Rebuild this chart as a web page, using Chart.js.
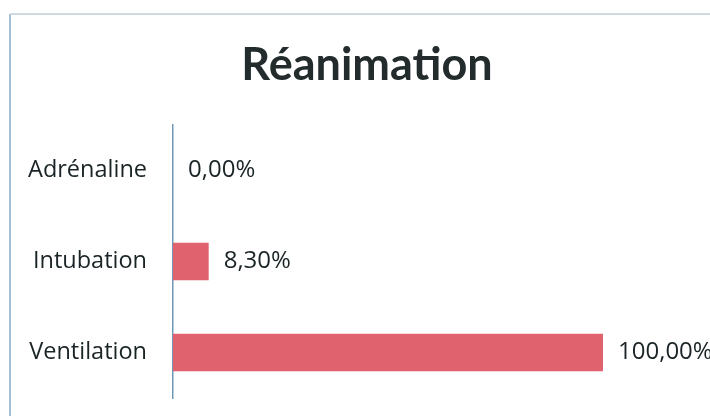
<!DOCTYPE html>
<html>
<head>
<meta charset="utf-8">
<script src="https://cdn.jsdelivr.net/npm/chart.js@4"></script>
<style>
  html, body { margin: 0; padding: 0; background: #ffffff; }
  #wrap { width: 710px; height: 416px; }
</style>
</head>
<body>
<div id="wrap"><canvas id="chart" width="710" height="416"></canvas></div>
<script>
const chartTitle = 'Réanimation';
const categories = ['Adrénaline', 'Intubation', 'Ventilation'];
const percentages = [0.0, 8.3, 100.0];

const barColor = '#e0626e';
const textColor = '#1a2426';
const axisColor = '#7199b6';
const labelFont = '"Open Sans", Lato, sans-serif';

// Outer frame of the chart panel (left edge and top edge) and the title
const framePlugin = {
  id: 'frame',
  beforeDraw(chart) {
    const ctx = chart.ctx;
    ctx.save();
    ctx.lineWidth = 2;
    ctx.strokeStyle = '#a3bfd1';
    ctx.beginPath();
    ctx.moveTo(10, 416);
    ctx.lineTo(10, 14);
    ctx.stroke();
    ctx.strokeStyle = '#cfdae1';
    ctx.beginPath();
    ctx.moveTo(10, 14);
    ctx.lineTo(710, 14);
    ctx.stroke();

    ctx.fillStyle = '#232b2d';
    ctx.font = 'bold 45px Lato, "Open Sans", sans-serif';
    ctx.textAlign = 'center';
    ctx.textBaseline = 'middle';
    ctx.fillText(chartTitle, 367, 65);
    ctx.restore();
  }
};

// Percentage labels written just past the end of each bar
const valueLabels = {
  id: 'valueLabels',
  afterDatasetsDraw(chart) {
    const ctx = chart.ctx;
    const meta = chart.getDatasetMeta(0);
    ctx.save();
    ctx.font = '500 24px ' + labelFont;
    ctx.fillStyle = textColor;
    ctx.textAlign = 'left';
    ctx.textBaseline = 'middle';
    meta.data.forEach((bar, i) => {
      const v = chart.data.datasets[0].data[i];
      const txt = v.toFixed(2).replace('.', ',') + '%';
      ctx.fillText(txt, bar.x + 15, bar.y);
    });
    ctx.restore();
  }
};

new Chart(document.getElementById('chart'), {
  type: 'bar',
  data: {
    labels: categories,
    datasets: [{
      data: percentages,
      backgroundColor: barColor,
      borderWidth: 0,
      barPercentage: 0.41,
      categoryPercentage: 1.0
    }]
  },
  options: {
    indexAxis: 'y',
    responsive: false,
    animation: false,
    layout: { padding: { left: 20, right: 107, top: 125, bottom: 18 } },
    plugins: {
      legend: { display: false },
      tooltip: { enabled: false },
      title: { display: false }
    },
    scales: {
      x: {
        display: false,
        min: 0,
        max: 100
      },
      y: {
        grid: { display: false, drawTicks: false },
        border: { display: true, color: axisColor, width: 1.5 },
        ticks: {
          color: textColor,
          padding: 26,
          font: { family: labelFont, size: 23.5, weight: 500 }
        },
        afterFit(scale) {
          scale.width = 153;
          scale.paddingTop = 0;
          scale.paddingBottom = 0;
        }
      }
    }
  },
  plugins: [framePlugin, valueLabels]
});
</script>
</body>
</html>
